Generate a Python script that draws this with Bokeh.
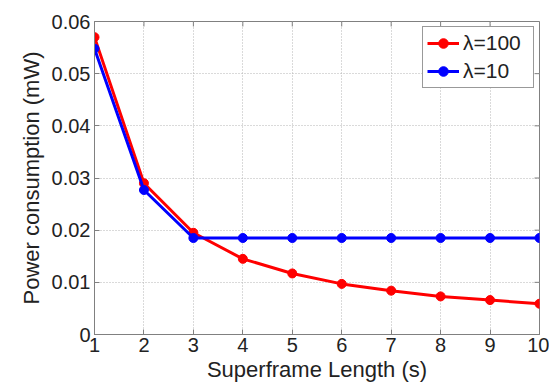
import math
from bokeh.plotting import figure
from bokeh.embed import file_html
from bokeh.resources import INLINE
from bokeh.models import Range1d, FixedTicker, Legend, LegendItem

x_vals = [1, 2, 3, 4, 5, 6, 7, 8, 9, 10]
red_vals = [0.057, 0.029, 0.0195, 0.0145, 0.0117, 0.0097, 0.0084, 0.0073, 0.0066, 0.0059]
blue_vals = [0.0548, 0.0277, 0.0185, 0.0185, 0.0185, 0.0185, 0.0185, 0.0185, 0.0185, 0.0185]
y_ticks = [0, 0.01, 0.02, 0.03, 0.04, 0.05, 0.06]
x_ticks = [1, 2, 3, 4, 5, 6, 7, 8, 9, 10]

FONT = "Liberation Sans"

p = figure(frame_width=445, frame_height=313, output_backend="svg", toolbar_location=None,
           x_range=Range1d(1, 10), y_range=Range1d(0, 0.06),
           min_border_left=94, min_border_right=10, min_border_top=21, min_border_bottom=44)
p.outline_line_color = "#808080"
p.outline_line_width = 1

for ax in (p.xaxis[0], p.yaxis[0]):
    ax.axis_line_color = "#808080"
    ax.major_tick_line_color = "#808080"
    ax.major_tick_in = 5
    ax.major_tick_out = 0
    ax.minor_tick_line_color = None
    ax.major_label_text_font = FONT
    ax.major_label_text_font_size = "20px"
    ax.major_label_text_color = "#222222"
    ax.axis_label_text_font = FONT
    ax.axis_label_text_font_size = "22px"
    ax.axis_label_text_font_style = "normal"
    ax.axis_label_text_color = "#222222"

p.xaxis.ticker = FixedTicker(ticks=x_ticks)
p.yaxis.ticker = FixedTicker(ticks=y_ticks)
p.yaxis.major_label_overrides = {0: "0", 0.01: "0.01", 0.02: "0.02", 0.03: "0.03",
                                 0.04: "0.04", 0.05: "0.05", 0.06: "0.06"}
p.xaxis.axis_label = "Superframe Length (s)"
p.yaxis.axis_label = "Power consumption (mW)"
p.xaxis.major_label_standoff = 3
p.xaxis.axis_label_standoff = 2
p.yaxis.major_label_standoff = 4
p.yaxis.axis_label_standoff = 5

p.xgrid.grid_line_color = "#b4b4b4"
p.ygrid.grid_line_color = "#b4b4b4"
p.xgrid.grid_line_dash = "1 2"
p.ygrid.grid_line_dash = "1 2"
p.xgrid.ticker = FixedTicker(ticks=x_ticks)
p.ygrid.ticker = FixedTicker(ticks=y_ticks)

# mirrored inward ticks on the right and top edges (MATLAB box style)
p.ray(x=[x_ticks[-1]] * len(y_ticks), y=y_ticks, length=5, length_units="screen",
      angle=math.pi, line_color="#808080", line_width=1)
p.ray(x=x_ticks, y=[y_ticks[-1]] * len(x_ticks), length=5, length_units="screen",
      angle=-math.pi / 2, line_color="#808080", line_width=1)

lr = p.line(x_vals, red_vals, line_color="#ff0000", line_width=3)
sr = p.scatter(x_vals, red_vals, marker="circle", size=9, fill_color="#ff0000", line_color="#ff0000")
lb = p.line(x_vals, blue_vals, line_color="#0000ff", line_width=3)
sb = p.scatter(x_vals, blue_vals, marker="circle", size=9, fill_color="#0000ff", line_color="#0000ff")

legend = Legend(items=[LegendItem(label="λ=100", renderers=[lr, sr]),
                       LegendItem(label="λ=10", renderers=[lb, sb])],
                location="top_right")
legend.label_text_font = FONT
legend.label_text_font_size = "21px"
legend.label_text_color = "#222222"
legend.label_height = 24
legend.label_width = 66
legend.glyph_height = 24
legend.border_line_color = "#333333"
legend.border_line_width = 1
legend.margin = 5
legend.padding = 4
legend.spacing = 4
legend.glyph_width = 32
legend.label_standoff = 4
legend.background_fill_alpha = 1
p.add_layout(legend)

open("out.html", "w").write(file_html(p, INLINE))
